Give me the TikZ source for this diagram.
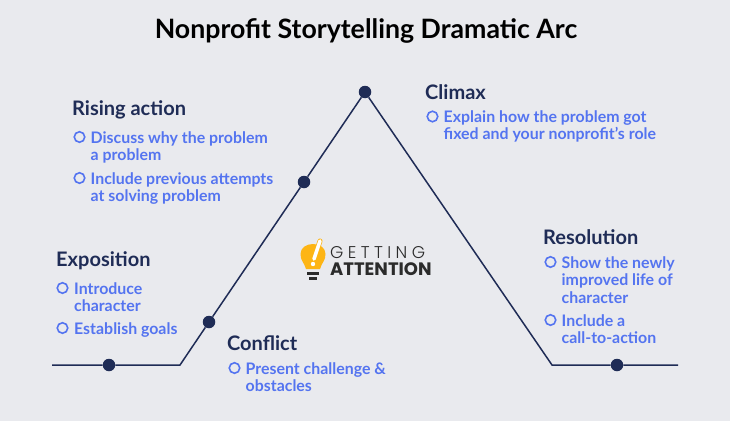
\documentclass[tikz,border=0pt]{standalone}
\usepackage{fontspec}
\setmainfont{Lato}
\newfontfamily\logofont{Poppins}
\newfontfamily\logolight[LetterSpace=26]{Poppins Light}
\definecolor{bgcol}{HTML}{E9EAEE}
\definecolor{navycol}{HTML}{1F2C56}
\definecolor{bluecol}{HTML}{5474F0}
\definecolor{bulbcol}{HTML}{FDB515}
\definecolor{logocol}{HTML}{2B2B2B}
\tikzset{
  dot/.style={circle, fill=navycol, inner sep=0pt, minimum size=12.5pt},
  heading/.style={anchor=base west, inner sep=0pt, text=navycol, font=\fontsize{20}{22}\selectfont\bfseries},
  point/.style={anchor=base west, inner sep=0pt, text=bluecol, align=left, font=\fontsize{15.9}{17.3}\selectfont\bfseries},
  ring/.style={circle, draw=bluecol, line width=1.6pt, inner sep=0pt, minimum size=10.5pt}
}
\begin{document}
\begin{tikzpicture}[x=1pt, y=-1pt]
  % Background
  \useasboundingbox (0,0) rectangle (730,420);
  \fill[bgcol] (-3,-3) rectangle (733,423);

  % Title
  \node[anchor=base, inner sep=0pt, font=\fontsize{26.7}{30}\selectfont\bfseries, text=black] (title) at (366,39) {Nonprofit Storytelling Dramatic Arc};

  % Arc corners and ends
  \coordinate (start) at (52,365);
  \coordinate (foot) at (180,365);
  \coordinate (drop) at (552,365);
  \coordinate (end) at (678,365);

  % Dots on the arc
  \node[dot] (expo) at (109,365) {};
  \node[dot] (confl) at (209,322) {};
  \node[dot] (rising) at (304,182) {};
  \node[dot] (climax) at (365,92) {};
  \node[dot] (resol) at (617,365) {};

  % Arc
  \draw[navycol, line width=1.5pt] (start) -- (expo) -- (foot) -- (confl) -- (rising) -- (climax) -- (drop) -- (resol) -- (end);

  % Rising action
  \node[heading] (risinghead) at (72,115.5) {Rising action};
  \node[ring] (risingringa) at (79.5,137) {};
  \node[point] (risingtexta) at (90.5,160.5) {Discuss why the problem\\a problem};
  \node[ring] (risingringb) at (79.5,178) {};
  \node[point] (risingtextb) at (90.5,201.5) {Include previous attempts\\at solving problem};

  % Exposition
  \node[heading] (expohead) at (56,266.5) {Exposition};
  \node[ring] (exporinga) at (62.5,288) {};
  \node[point] (expotexta) at (74,311.5) {Introduce\\character};
  \node[ring] (exporingb) at (62.5,328) {};
  \node[point] (expotextb) at (74,334.5) {Establish goals};

  % Conflict
  \node[heading] (conflhead) at (227,350.5) {Conflict};
  \node[ring] (conflring) at (234.5,368) {};
  \node[point] (confltext) at (245.5,391.5) {Present challenge \&\\obstacles};

  % Climax
  \node[heading] (climaxhead) at (425,99.5) {Climax};
  \node[ring] (climaxring) at (432.5,116.5) {};
  \node[point] (climaxtext) at (443.5,139.5) {Explain how the problem got\\fixed and your nonprofit’s role};

  % Resolution
  \node[heading] (resolhead) at (543,244.5) {Resolution};
  \node[ring] (resolringa) at (550.5,262) {};
  \node[point] (resoltexta) at (561.5,303) {Show the newly\\improved life of\\character};
  \node[ring] (resolringb) at (550.5,320) {};
  \node[point] (resoltextb) at (561.5,343.5) {Include a\\call-to-action};

  % Logo bulb
  \fill[bulbcol] (306,269) .. controls (304,262) and (300.5,261) .. (300.5,254) .. controls (300.5,248) and (306,244) .. (313,244) .. controls (320,244) and (325.5,248) .. (325.5,254) .. controls (325.5,261) and (322,262) .. (320,269) -- cycle;
  \draw[bulbcol, line width=5pt, line cap=round] (320,241) -- (314,259);
  \draw[white, line width=3.6pt, line cap=round] (320,241) -- (314,259);
  \fill[white] (313,264) circle (2.2pt);
  \fill[logocol] (307,272) rectangle (319,274.5);
  \fill[logocol] (309,276.5) rectangle (317,279.5);

  % Logo text
  \node[anchor=base west, inner sep=0pt, text=logocol, font=\fontsize{17}{20}\selectfont\logolight] (logotop) at (330,258) {GETTING};
  \node[anchor=base west, inner sep=0pt, text=logocol, font=\fontsize{18}{20}\selectfont\logofont\bfseries] (logobottom) at (330,275.5) {ATTENTION};
\end{tikzpicture}
\end{document}
